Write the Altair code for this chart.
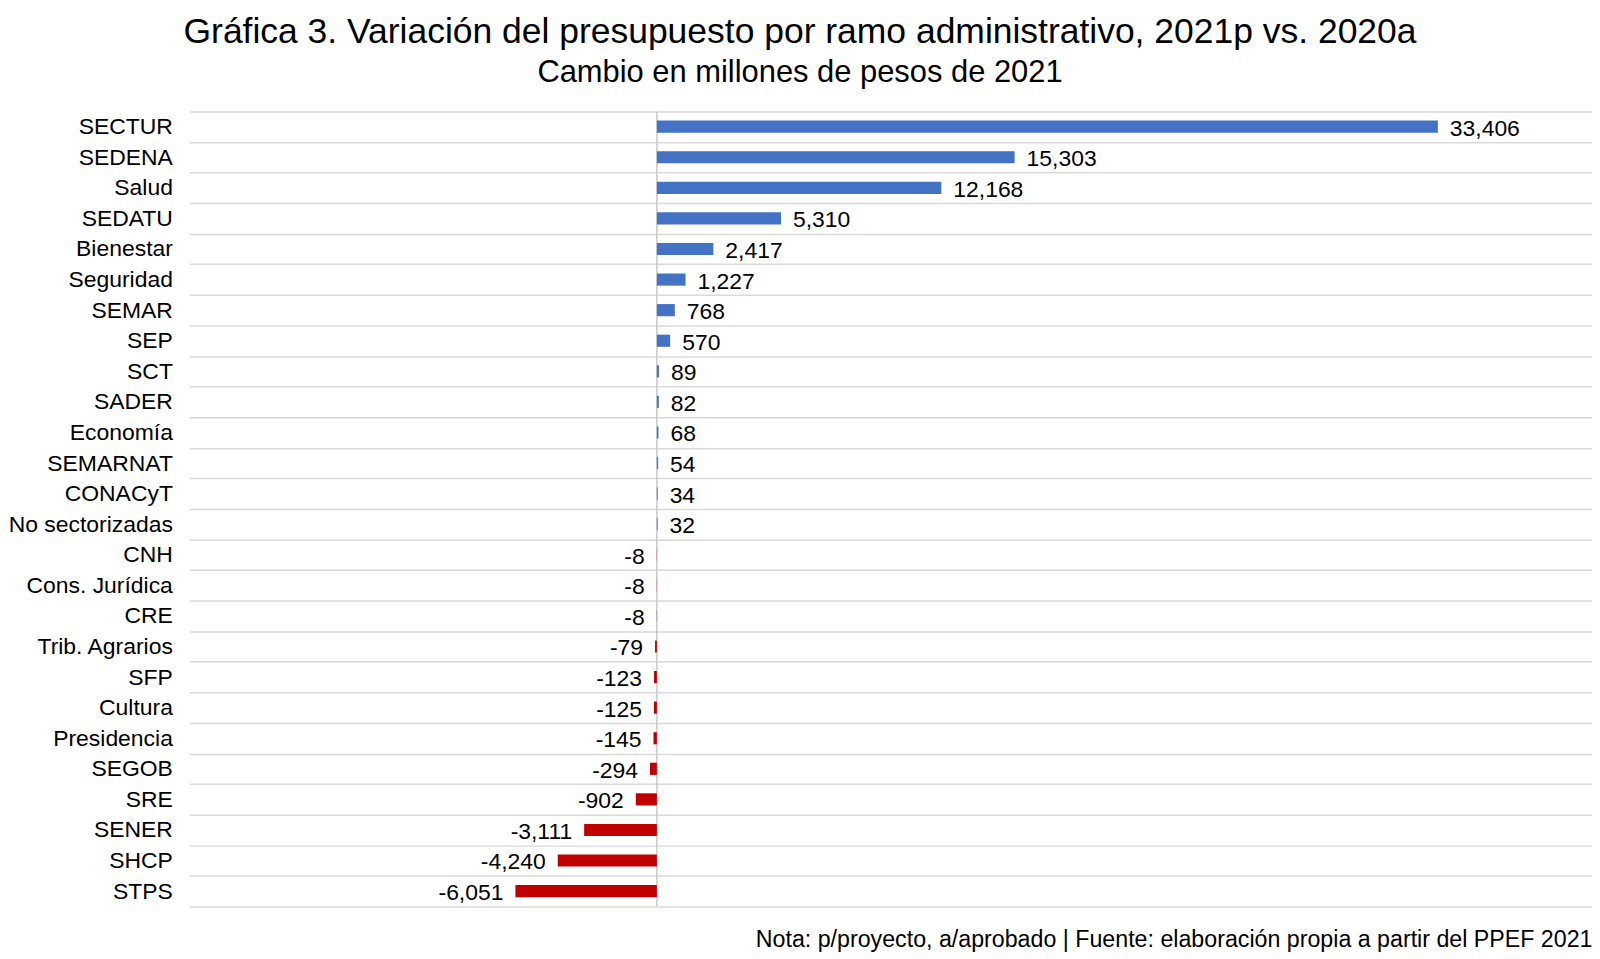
import altair as alt
import pandas as pd

categories = ["SECTUR", "SEDENA", "Salud", "SEDATU", "Bienestar", "Seguridad", "SEMAR", "SEP",
              "SCT", "SADER", "Economía", "SEMARNAT", "CONACyT", "No sectorizadas", "CNH",
              "Cons. Jurídica", "CRE", "Trib. Agrarios", "SFP", "Cultura", "Presidencia",
              "SEGOB", "SRE", "SENER", "SHCP", "STPS"]
values = [33406, 15303, 12168, 5310, 2417, 1227, 768, 570, 89, 82, 68, 54, 34, 32, -8,
          -8, -8, -79, -123, -125, -145, -294, -902, -3111, -4240, -6051]

title_text = "Gráfica 3. Variación del presupuesto por ramo administrativo, 2021p vs. 2020a"
subtitle_text = "Cambio en millones de pesos de 2021"
note_text = "Nota: p/proyecto, a/aprobado | Fuente: elaboración propia a partir del PPEF 2021"

FONT = "Liberation Sans"

df = pd.DataFrame({
    "ramo": categories,
    "valor": values,
    "signo": ["pos" if v >= 0 else "neg" for v in values],
    "etiqueta": [f"{v:,}" for v in values],
})
zero_df = pd.DataFrame({"valor": [0]})

xenc = alt.X(
    "valor:Q",
    scale=alt.Scale(domain=[-20000, 40000], nice=False, zero=False),
    axis=alt.Axis(title=note_text, labels=False, ticks=False, domain=False, grid=False,
                  titleAnchor="end", titleFontSize=23.3, titleFontWeight="normal",
                  titleColor="black", titleFont=FONT, titlePadding=22),
)
yenc = alt.Y(
    "ramo:N",
    sort=categories,
    scale=alt.Scale(paddingInner=0, paddingOuter=0),
    axis=alt.Axis(title=None, labelFontSize=23, labelColor="black", labelFont=FONT,
                  labelPadding=17, ticks=False, domain=False, grid=True,
                  gridColor="#d9d9d9", gridWidth=1.5, tickBand="extent"),
)

bars = alt.Chart(df).mark_bar(size=12.2).encode(
    x=xenc,
    y=yenc,
    color=alt.Color("signo:N", scale=alt.Scale(domain=["pos", "neg"], range=["#4472C4", "#C00000"]), legend=None),
)

zero_rule = alt.Chart(zero_df).mark_rule(color="#c8c8c8", strokeWidth=1.5).encode(x=xenc)

pos_text = alt.Chart(df).transform_filter("datum.valor >= 0").mark_text(
    align="left", baseline="middle", dx=12, dy=2, fontSize=23, font=FONT, color="black"
).encode(x=xenc, y=yenc, text="etiqueta:N")

neg_text = alt.Chart(df).transform_filter("datum.valor < 0").mark_text(
    align="right", baseline="middle", dx=-12, dy=2, fontSize=23, font=FONT, color="black"
).encode(x=xenc, y=yenc, text="etiqueta:N")

chart = alt.layer(zero_rule, bars, pos_text, neg_text).properties(
    width=1408,
    height=798,
    padding={"left": 182, "top": 102, "right": 0, "bottom": 50},
    autosize="none",
    title=alt.TitleParams(
        text=title_text, subtitle=subtitle_text, fontSize=35.6, subtitleFontSize=31,
        fontWeight="normal", color="black", subtitleColor="black", font=FONT,
        subtitleFont=FONT, anchor="middle", dx=-91, offset=13, subtitlePadding=7,
    ),
).configure(font=FONT).configure_view(stroke=None)

chart.save("out.html", embed_options={"renderer": "svg", "actions": False})
